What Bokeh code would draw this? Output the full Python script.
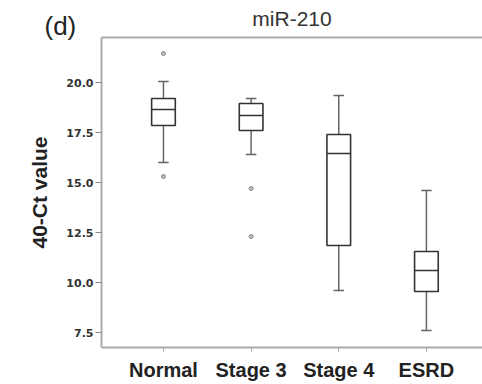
from bokeh.plotting import figure
from bokeh.models import FixedTicker, LinearAxis, Range1d, Title
from bokeh.embed import file_html
from bokeh.resources import INLINE

categories = ["Normal", "Stage 3", "Stage 4", "ESRD"]
positions = [1, 2, 3, 4]
lower = [16.0, 16.4, 9.6, 7.6]
q1 = [17.85, 17.6, 11.85, 9.55]
median = [18.65, 18.35, 16.45, 10.6]
q3 = [19.2, 18.95, 17.4, 11.55]
upper = [20.05, 19.2, 19.35, 14.6]
outlier_x = [1, 1, 2, 2]
outlier_y = [21.45, 15.3, 14.7, 12.3]
y_ticks = [7.5, 10.0, 12.5, 15.0, 17.5, 20.0]

FONT = "Liberation Sans"
AXIS_COL = "#aaaaaa"
BOX_COL = "#333333"
WH_COL = "#666666"

p = figure(width=482, height=384, output_backend="svg", toolbar_location=None,
           x_range=Range1d(0.293, 4.64), y_range=Range1d(6.75, 22.25),
           min_border_left=101, min_border_right=0, min_border_top=37, min_border_bottom=37)
p.outline_line_color = None
p.grid.visible = False
p.background_fill_color = "white"
p.border_fill_color = "white"

# whiskers
p.segment(x0=positions, y0=q3, x1=positions, y1=upper, line_color=WH_COL, line_width=1.5)
p.segment(x0=positions, y0=q1, x1=positions, y1=lower, line_color=WH_COL, line_width=1.5)
cap = 0.06
p.segment(x0=[x - cap for x in positions], y0=upper, x1=[x + cap for x in positions], y1=upper,
          line_color=WH_COL, line_width=1.5)
p.segment(x0=[x - cap for x in positions], y0=lower, x1=[x + cap for x in positions], y1=lower,
          line_color=WH_COL, line_width=1.5)
# boxes
p.vbar(x=positions, width=0.27, bottom=q1, top=q3, fill_color="white",
       line_color=BOX_COL, line_width=1.6)
hw = 0.135
p.segment(x0=[x - hw for x in positions], y0=median, x1=[x + hw for x in positions], y1=median,
          line_color=BOX_COL, line_width=1.6)
# outliers
p.scatter(outlier_x, outlier_y, size=4, fill_color="#bbbbbb", line_color="#888888", line_width=1)

# axes styling
xa = p.xaxis[0]
xa.ticker = FixedTicker(ticks=positions)
xa.major_label_overrides = {pos: c for pos, c in zip(positions, categories)}
xa.axis_line_color = AXIS_COL
xa.axis_line_width = 2
xa.major_tick_line_color = AXIS_COL
xa.major_tick_out = 4
xa.major_tick_in = 0
xa.minor_tick_line_color = None
xa.major_label_text_font = FONT
xa.major_label_text_font_style = "bold"
xa.major_label_text_font_size = "20px"
xa.major_label_text_color = "#222222"
xa.major_label_standoff = 7

ya = p.yaxis[0]
ya.ticker = FixedTicker(ticks=y_ticks)
ya.major_label_overrides = {t: f"{t:.1f}" for t in y_ticks}
ya.axis_line_color = AXIS_COL
ya.axis_line_width = 2
ya.major_tick_line_color = "#888888"
ya.major_tick_out = 6
ya.major_tick_in = 0
ya.minor_tick_line_color = None
ya.major_label_text_font = "DejaVu Sans"
ya.major_label_text_font_style = "bold"
ya.major_label_text_font_size = "11px"
ya.major_label_text_color = "#333333"
ya.major_label_standoff = 2
ya.axis_label = "40-Ct value"
ya.axis_label_text_font = FONT
ya.axis_label_text_font_style = "bold"
ya.axis_label_text_font_size = "21px"
ya.axis_label_text_color = "#222222"
ya.axis_label_standoff = 12

top = LinearAxis(ticker=FixedTicker(ticks=[]), axis_line_color=AXIS_COL, axis_line_width=2,
                 major_tick_line_color=None, minor_tick_line_color=None,
                 major_tick_out=0, minor_tick_out=0, major_tick_in=0, minor_tick_in=0,
                 major_label_standoff=0, major_label_text_font_size="0px")
p.add_layout(top, "above")

panel_label = Title(text="(d)", align="left", offset=-57, vertical_align="top", standoff=-10,
                    text_font=FONT, text_font_size="26px", text_font_style="normal",
                    text_color="#222222")
p.add_layout(panel_label, "above")

p.title = Title(text="miR-210", align="center", vertical_align="bottom", standoff=-29.5,
                text_font=FONT, text_font_size="21px", text_font_style="normal",
                text_color="#333333")

open("out.html", "w").write(file_html(p, INLINE))
